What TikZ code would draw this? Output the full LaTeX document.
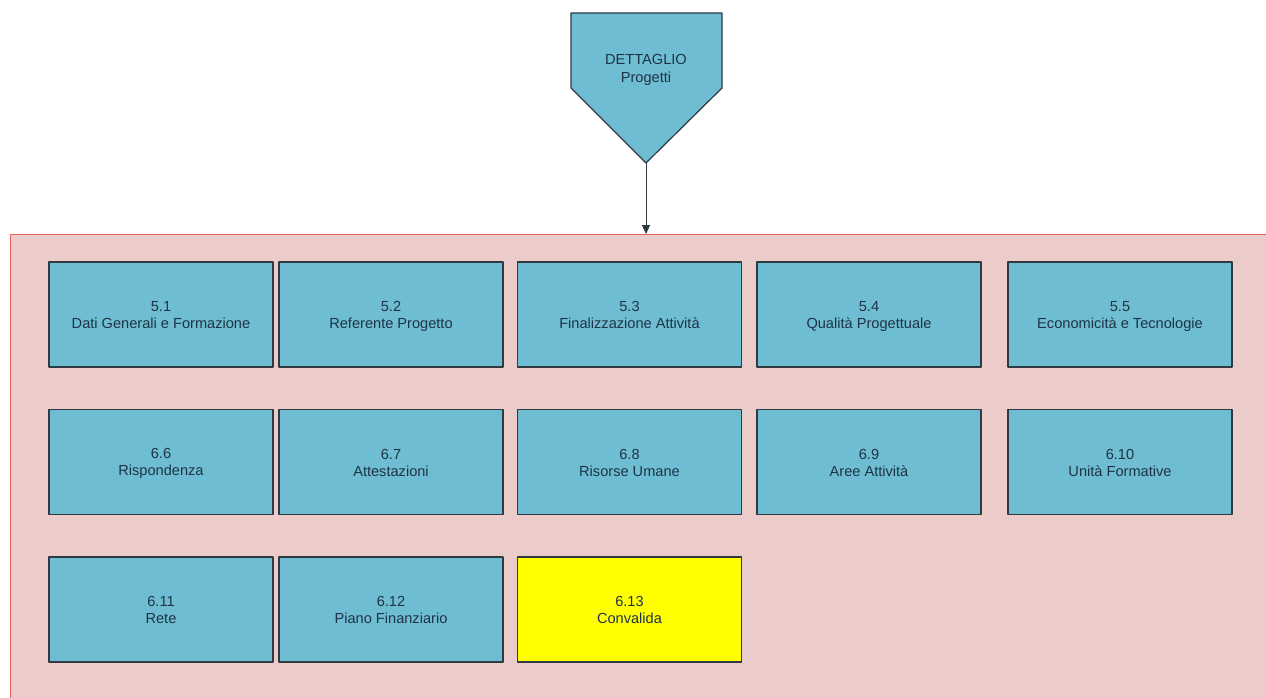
\documentclass[tikz,border=0pt]{standalone}
\usepackage{fontspec}
\setmainfont{Liberation Sans}
\usetikzlibrary{arrows.meta}
\definecolor{boxblue}{HTML}{6FBDD2}
\definecolor{panelpink}{HTML}{ECCBCB}
\definecolor{panelred}{HTML}{E06464}
\definecolor{textnavy}{HTML}{1E3446}
\definecolor{edgegray}{HTML}{2F3A40}
\definecolor{convyellow}{RGB}{255,255,0}
\newcommand{\rigaalta}{\rule{0pt}{14pt}}
\newcommand{\rigabassa}{\rule[-3pt]{0pt}{3pt}}
\begin{document}
\begin{tikzpicture}[x=1pt, y=-1pt, font=\fontsize{14.6}{17}\selectfont, line join=round, >={Triangle[length=9pt,width=8pt]},
	cella/.style={draw=edgegray, line width=1.3pt, fill=boxblue, text=textnavy, minimum width=224pt, minimum height=105pt, align=center, inner sep=0pt}]
			\useasboundingbox (0,0) rectangle (1266,698);
			\clip (0,0) rectangle (1266,698);
			% pannello rosa
			\node[draw=panelred, fill=panelpink, line width=1.2pt, minimum width=1280pt, minimum height=480pt, anchor=north west, inner sep=0pt] (pannello) at (9.5,234) {};
			% pentagono in alto
			\draw[fill=boxblue, draw=edgegray, line width=1.2pt] (571,13)--(722,13)--(722,88)--(646,163)--(571,88)--cycle;
			\coordinate (punta) at (646,163);
			\node[text=textnavy, align=center, font=\fontsize{14.6}{18}\selectfont] (dettaglio) at (646,70) {DETTAGLIO\\Progetti};
			\draw[->, edgegray, line width=0.9pt] (punta)--(punta |- pannello.north);
			% caselle
			\foreach \x/\y/\n/\t/\nome in {161/314.5/5.1/Dati Generali e Formazione/b51, 391/314.5/5.2/Referente Progetto/b52, 629.5/314.5/5.3/Finalizzazione Attività/b53, 869/314.5/5.4/Qualità Progettuale/b54, 1120/314.5/5.5/Economicità e Tecnologie/b55, 161/462/6.6/Rispondenza/b66, 391/462/6.7/Attestazioni/b67, 629.5/462/6.8/Risorse Umane/b68, 869/462/6.9/Aree Attività/b69, 1120/462/6.10/Unità Formative/b610, 161/609.5/6.11/Rete/b611, 391/609.5/6.12/Piano Finanziario/b612}
				\node[cella] (\nome) at (\x,\y) {\rigaalta\n\\\t\rigabassa};
			\node[cella, fill=convyellow] (b613) at (629.5,609.5) {\rigaalta 6.13\\Convalida\rigabassa};
	\end{tikzpicture}
\end{document}
